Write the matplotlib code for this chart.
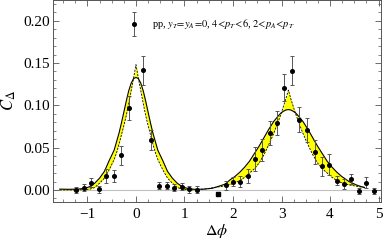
import numpy as np
import matplotlib.pyplot as plt
from matplotlib.container import ErrorbarContainer
from matplotlib.legend_handler import HandlerErrorbar
from matplotlib.ticker import MultipleLocator

### data
# near side points
near_x = [-1.24, -1.08, -0.93, -0.77, -0.62, -0.46, -0.31, -0.15,
          0.15, 0.31, 0.47, 0.63, 0.79, 0.94, 1.10, 1.26]
near_y = [0.000, 0.0027, 0.0087, 0.001, 0.0165, 0.017, 0.041, 0.097,
          0.1415, 0.059, 0.005, 0.005, 0.0027, 0.004, 0.001, 0.0005]
near_err = [0.004, 0.004, 0.005, 0.004, 0.008, 0.007, 0.011, 0.014,
            0.017, 0.012, 0.004, 0.004, 0.004, 0.004, 0.004, 0.004]

# away side points
away_x = [1.85, 1.99, 2.14, 2.30, 2.45, 2.60, 2.76, 2.91, 3.06, 3.22, 3.37,
          3.52, 3.68, 3.83, 3.98, 4.15, 4.29, 4.44, 4.60, 4.75, 4.91]
away_y = [0.0055, 0.010, 0.010, 0.0165, 0.037, 0.047, 0.067, 0.0795, 0.121,
          0.141, 0.083, 0.071, 0.0445, 0.028, 0.030, 0.011, 0.0067, 0.0126,
          -0.001, 0.0087, -0.001]
away_err = [0.005, 0.005, 0.006, 0.008, 0.014, 0.013, 0.014, 0.014, 0.016,
            0.017, 0.015, 0.014, 0.014, 0.011, 0.012, 0.0055, 0.006, 0.006,
            0.0035, 0.0063, 0.0035]

# lone square point
sq_x = [1.70]
sq_y = [-0.005]

# theory curves (solid = wide, dashed = cusp), same grid
curve_x = [-1.571, -1.4, -1.2, -1.05, -0.95, -0.85, -0.75, -0.65, -0.55, -0.45,
           -0.4, -0.35, -0.3, -0.25, -0.2, -0.15, -0.1, -0.05, 0.0,
           0.05, 0.1, 0.15, 0.2, 0.25, 0.3, 0.35, 0.4, 0.45, 0.55, 0.65,
           0.75, 0.85, 0.95, 1.05, 1.2, 1.4, 1.571, 1.74, 1.84, 1.94, 2.04,
           2.14, 2.24, 2.34, 2.44, 2.54, 2.64, 2.74, 2.84, 2.94, 2.99, 3.04,
           3.09, 3.142, 3.19, 3.24, 3.29, 3.34, 3.44, 3.54, 3.64, 3.74, 3.84,
           3.94, 4.04, 4.14, 4.24, 4.39, 4.54, 4.64, 4.712]
solid_y = [0.001, 0.0008, 0.001, 0.002, 0.004, 0.008, 0.014, 0.022, 0.035, 0.047,
           0.057, 0.067, 0.079, 0.092, 0.105, 0.117, 0.126, 0.1315, 0.133,
           0.1315, 0.126, 0.117, 0.105, 0.092, 0.079, 0.067, 0.057, 0.047, 0.035, 0.022,
           0.014, 0.008, 0.004, 0.002, 0.0008, 0.001, 0.002, 0.005, 0.007, 0.012, 0.016,
           0.021, 0.027, 0.034, 0.043, 0.052, 0.062, 0.072, 0.081, 0.088, 0.091, 0.093,
           0.0945, 0.095, 0.0945, 0.093, 0.091, 0.088, 0.081, 0.072, 0.062, 0.052, 0.043,
           0.034, 0.027, 0.021, 0.016, 0.010, 0.006, 0.004, 0.003]
dashed_y = [0.0, 0.0, 0.0, 0.0005, 0.001, 0.003, 0.008, 0.014, 0.024, 0.036,
            0.044, 0.054, 0.065, 0.076, 0.088, 0.102, 0.117, 0.132, 0.148,
            0.132, 0.117, 0.102, 0.088, 0.076, 0.065, 0.054, 0.044, 0.036, 0.024, 0.014,
            0.008, 0.003, 0.001, 0.0005, 0.0, 0.001, 0.0025, 0.004, 0.005, 0.0065, 0.0085,
            0.011, 0.015, 0.020, 0.025, 0.032, 0.042, 0.054, 0.067, 0.082, 0.090, 0.099,
            0.108, 0.118, 0.108, 0.099, 0.090, 0.082, 0.067, 0.054, 0.042, 0.032, 0.025,
            0.020, 0.015, 0.011, 0.0085, 0.006, 0.0045, 0.0035, 0.003]

legend_label = (r"pp, $y_T\!=\!y_A\!=\!0$, $4\!<\!p_T\!<\!6$, "
                r"$2\!<\!p_A\!<\!p_T$")

### style
plt.rcParams['font.family'] = ['Liberation Serif', 'DejaVu Serif']
plt.rcParams['mathtext.fontset'] = 'stix'

fig = plt.figure(figsize=(3.83, 2.45), dpi=100)
ax = fig.add_axes([53/383, 1 - 202/245, 328/383, 202/245])

frame_col = '#555555'

ax.axhline(0, color='#c0c0c0', lw=0.8, zorder=1)

# yellow band between the two curves
ax.fill_between(curve_x, solid_y, dashed_y, color='#ffff00', lw=0, zorder=2)
ax.plot(curve_x, solid_y, color='black', lw=0.8, zorder=3)
ax.plot(curve_x, dashed_y, color='black', lw=0.6, ls=(0, (2.5, 1.5)), zorder=3)

eb_kw = dict(fmt='o', color='black', ms=2.6, ecolor='#555555', elinewidth=0.7,
             capsize=1.5, capthick=0.7, zorder=5)
h = ax.errorbar(near_x, near_y, yerr=near_err, label=legend_label, **eb_kw)
ax.errorbar(away_x, away_y, yerr=away_err, **eb_kw)
ax.plot(sq_x, sq_y, 's', color='black', ms=2.6, zorder=5)

# legend in the top middle
ax.legend(handles=[h], labels=[legend_label], frameon=False, fontsize=7.5,
          loc='center left', bbox_to_anchor=(0.215, 0.88), borderpad=0,
          borderaxespad=0, handlelength=2.0, handletextpad=0.7,
          handler_map={ErrorbarContainer: HandlerErrorbar(yerr_size=1.15)})

ax.set_xlim(-1.71, 5.05)
ax.set_ylim(-0.0142, 0.2244)

ax.xaxis.set_major_locator(MultipleLocator(1))
ax.xaxis.set_minor_locator(MultipleLocator(0.25))
ax.yaxis.set_major_locator(MultipleLocator(0.05))
ax.yaxis.set_minor_locator(MultipleLocator(0.01))
ax.yaxis.set_major_formatter(plt.FuncFormatter(lambda v, p: '%.2f' % v))

ax.tick_params(which='both', direction='in', top=True, right=True,
               color=frame_col, labelsize=11)
ax.tick_params(which='major', length=4, width=0.6)
ax.tick_params(which='minor', length=2.2, width=0.5)
ax.tick_params(axis='x', pad=4)
ax.tick_params(axis='y', pad=2)
for s in ax.spines.values():
    s.set_color(frame_col)
    s.set_linewidth(0.7)

ax.set_xlabel(r'$\Delta\phi$', fontsize=11.5, labelpad=1)
ax.set_ylabel(r'$C_\Delta$', fontsize=12, labelpad=4)

fig.savefig('out.png', dpi=100)
